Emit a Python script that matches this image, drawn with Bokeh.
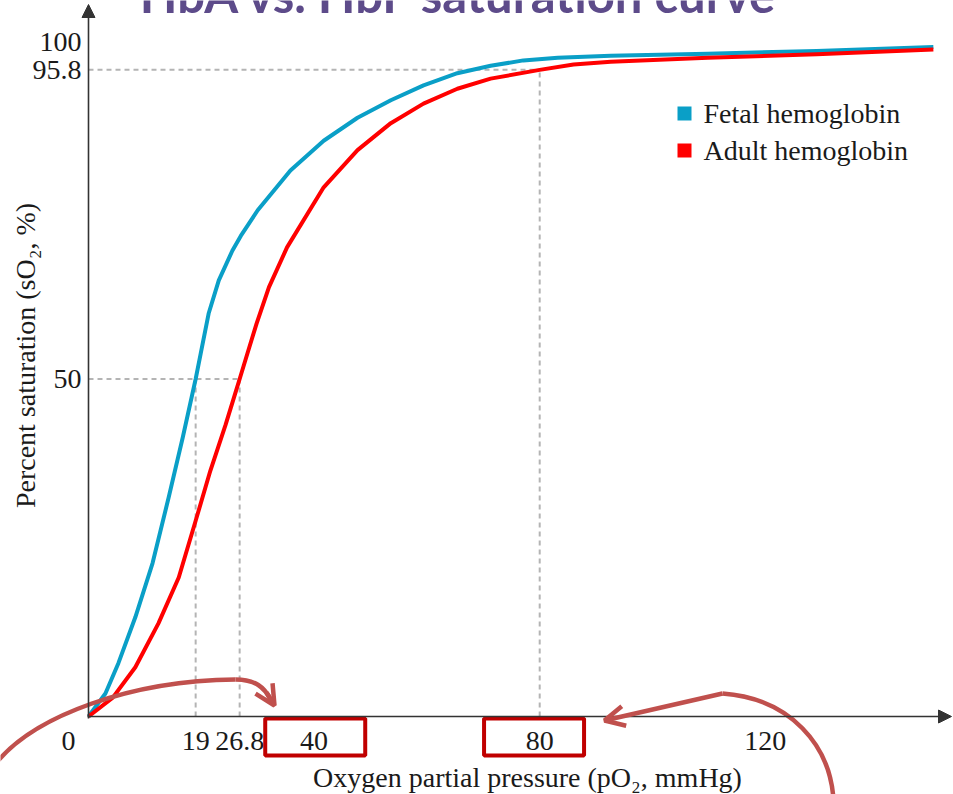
import math
from bokeh.plotting import figure
from bokeh.models import Arrow, NormalHead, OpenHead
from bokeh.core.properties import value
from bokeh.embed import file_html
from bokeh.resources import INLINE

# ---------------- data ----------------
title = "HbA vs. HbF saturation curve"
x_title = "Oxygen partial pressure (pO\u2082, mmHg)"
y_title = "Percent saturation (sO\u2082, %)"

fetal_po2 = [0, 0.35, 3.0, 5.3, 8.3, 11.35, 14.2, 16.7, 18.1, 19.0, 19.9, 21.3, 23.1, 25.5,
             27.0, 30.0, 35.8, 41.7, 47.7, 53.6, 59.4, 65.4, 71.3, 77.1, 83.2, 92.6,
             109.8, 129.1, 149.8]
fetal_so2 = [0, 0.4, 3.4, 7.9, 14.7, 22.7, 32.4, 41.3, 46.6, 50.0, 53.8, 59.7, 64.6, 69.0,
             71.2, 75.0, 80.9, 85.3, 88.7, 91.3, 93.5, 95.3, 96.4, 97.2, 97.6, 97.9,
             98.2, 98.6, 99.2]

adult_po2 = [0, 4.3, 8.3, 12.4, 16.0, 19.0, 21.6, 24.3, 26.1, 26.8, 28.0, 29.8, 32.0, 35.2,
             41.7, 47.7, 53.6, 59.4, 65.4, 71.3, 80.0, 86.0, 92.6, 109.8, 129.1, 149.8]
adult_so2 = [0, 2.8, 7.3, 13.8, 20.6, 29.0, 36.4, 43.2, 48.1, 50.0, 53.3, 58.2, 63.6, 69.5,
             78.4, 83.9, 87.9, 90.8, 93.0, 94.5, 95.8, 96.6, 97.0, 97.6, 98.1, 98.8]

series_names = ["Fetal hemoglobin", "Adult hemoglobin"]
series_colors = ["#0a9fc7", "#ff0000"]

x_ticks = [19, 26.8, 40, 80, 120]
x_tick_labels = ["19", "26.8", "40", "80", "120"]
y_ticks = [50, 95.8, 100]
y_tick_labels = ["50", "95.8", "100"]
origin_label = "0"

p50_po2 = [19, 26.8]       # half-saturation pressures
half_sat = 50
ref_po2 = 80               # adult reference point
ref_sat = 95.8
highlight_ticks = [40, 80]

# ---------------- layout ----------------
W, H = 953, 794
OX, OY = 88, 716          # pixel of the data origin
SX, SY = 5.64, 6.75       # px per data unit

def X(px):                # picture pixel -> data x
    return (px - OX) / SX

def Y(py):                # picture pixel -> data y
    return (OY - py) / SY

p = figure(width=W, height=H,
           x_range=(X(0), X(W)), y_range=(Y(H), Y(0)),
           output_backend="svg", toolbar_location=None,
           x_axis_location=None, y_axis_location=None,
           min_border=0, outline_line_color=None,
           background_fill_color="white", border_fill_color="white")
p.grid.visible = False

serif = value("Liberation Serif")
FS = "28px"
txt_col = "#1a1a1a"

# dashed guide lines
gx0 = [0, 0] + p50_po2 + [ref_po2]
gy0 = [ref_sat, half_sat] + [0] * len(p50_po2) + [0]
gx1 = [ref_po2, max(p50_po2)] + p50_po2 + [ref_po2]
gy1 = [ref_sat, half_sat] + [half_sat] * len(p50_po2) + [ref_sat]
p.segment(x0=gx0, y0=gy0, x1=gx1, y1=gy1, line_color="#b4b4b4",
          line_width=2, line_dash="5 4")

# curves
p.line(fetal_po2, fetal_so2, line_color=series_colors[0], line_width=4, line_join="round")
p.line(adult_po2, adult_so2, line_color=series_colors[1], line_width=4, line_join="round")

# axes with arrow heads
ax_col = "#333333"
p.add_layout(Arrow(end=NormalHead(size=13, fill_color=ax_col, line_color=ax_col),
                   x_start=0, y_start=Y(718), x_end=0, y_end=Y(4),
                   line_color=ax_col, line_width=1.6))
p.add_layout(Arrow(end=NormalHead(size=13, fill_color=ax_col, line_color=ax_col),
                   x_start=X(87), y_start=0, x_end=X(951), y_end=0,
                   line_color=ax_col, line_width=1.6))

# tick labels
p.text(x=x_ticks, y=[Y(740)] * len(x_ticks), text=x_tick_labels,
       text_align="center", text_baseline="middle",
       text_font=serif, text_font_size=FS, text_color=txt_col)
p.text(x=[X(68)], y=[Y(740)], text=[origin_label],
       text_align="center", text_baseline="middle",
       text_font=serif, text_font_size=FS, text_color=txt_col)
p.text(x=[X(81)] * len(y_ticks), y=y_ticks, text=y_tick_labels,
       text_align="right", text_baseline="middle",
       text_font=serif, text_font_size=FS, text_color=txt_col)

# axis titles
p.text(x=[X(527)], y=[Y(777)], text=[x_title], text_align="center",
       text_baseline="middle", text_font=serif, text_font_size=FS, text_color=txt_col)
p.text(x=[X(25)], y=[Y(355)], text=[y_title], angle=math.pi / 2,
       text_align="center", text_baseline="middle",
       text_font=serif, text_font_size=FS, text_color=txt_col)

# legend
leg_y = [Y(113), Y(150)]
p.scatter(x=[X(684)] * 2, y=leg_y, marker="square", size=14,
          fill_color=series_colors, line_color=None)
p.text(x=[X(703)] * 2, y=leg_y, text=series_names, text_align="left",
       text_baseline="middle", text_font=serif, text_font_size=FS, text_color=txt_col)

# title (its upper half is cut off at the top in the original)
p.text(x=[X(459)], y=[Y(-7)], text=[title], text_align="center",
       text_baseline="alphabetic", text_font=value("Lato"),
       text_font_style="bold", text_font_size="49px", text_color="#5d4b8a")

# highlighted tick boxes
bw = 100 / SX
box_off = [0.2, -1.0]
p.quad(left=[t + o - bw / 2 for t, o in zip(highlight_ticks, box_off)],
       right=[t + o + bw / 2 for t, o in zip(highlight_ticks, box_off)],
       top=[Y(718)] * len(highlight_ticks), bottom=[Y(755)] * len(highlight_ticks),
       fill_color=None, line_color="#c00000", line_width=4)

# curved red arrows
acol = "#c0504d"
p.bezier(x0=[X(-4), X(235)], y0=[Y(762), Y(679)],
         x1=[X(235), X(270)], y1=[Y(679), Y(699)],
         cx0=[X(35), X(255)], cy0=[Y(715), Y(679)],
         cx1=[X(130), X(264)], cy1=[Y(680), Y(687)],
         line_color=acol, line_width=4.5)
p.add_layout(Arrow(end=OpenHead(size=20, line_color=acol, line_width=4.5),
                   x_start=X(266), y_start=Y(692), x_end=X(274), y_end=Y(705),
                   line_color=acol, line_width=4.5))
p.bezier(x0=[X(833)], y0=[Y(800)], x1=[X(722)], y1=[Y(693)],
         cx0=[X(830)], cy0=[Y(745)], cx1=[X(790)], cy1=[Y(698)],
         line_color=acol, line_width=4.5)
p.add_layout(Arrow(end=OpenHead(size=20, line_color=acol, line_width=4.5),
                   x_start=X(722), y_start=Y(693), x_end=X(604), y_end=Y(720),
                   line_color=acol, line_width=4.5))

open("out.html", "w").write(file_html(p, INLINE))
